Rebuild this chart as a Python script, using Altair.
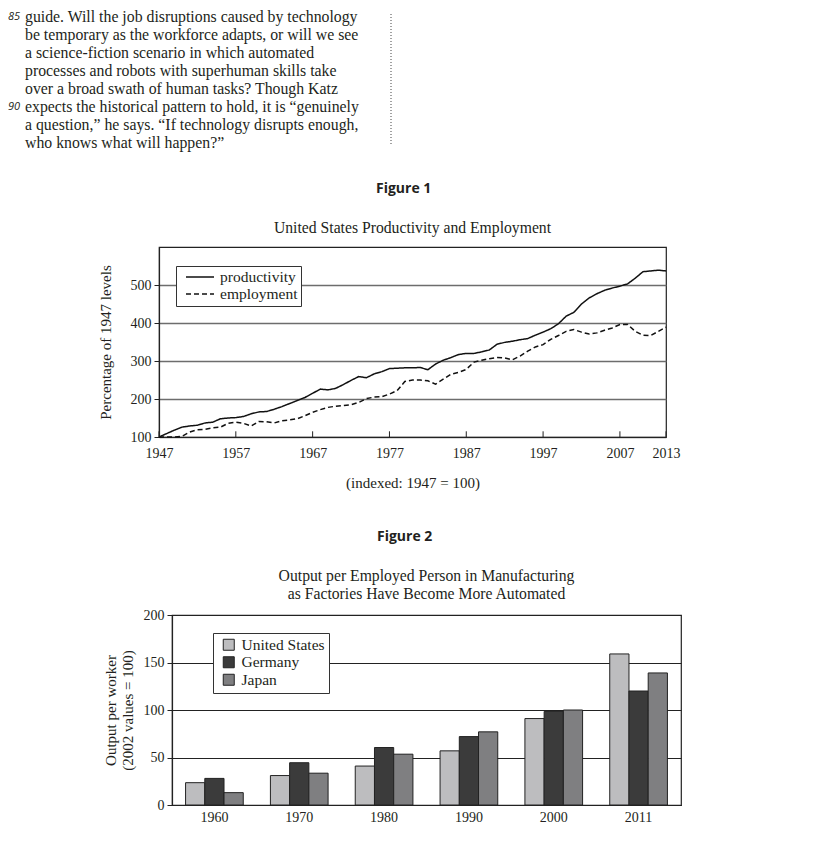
import altair as alt
import pandas as pd

SERIF = "Liberation Serif"
SANS = "Open Sans"
INK = "#231f20"

# ---- passage text ----
passage_lines = [
    "guide. Will the job disruptions caused by technology",
    "be temporary as the workforce adapts, or will we see",
    "a science-fiction scenario in which automated",
    "processes and robots with superhuman skills take",
    "over a broad swath of human tasks? Though Katz",
    "expects the historical pattern to hold, it is \u201cgenuinely",
    "a question,\u201d he says. \u201cIf technology disrupts enough,",
    "who knows what will happen?\u201d",
]
line_numbers = ["85", "", "", "", "", "90", "", ""]

# ---- Figure 1 data ----
years = list(range(1947, 2014))
productivity = [
    100, 109, 118,
    126, 129, 131, 137, 139, 148, 150, 151, 154, 161,
    166, 167, 173, 180, 188, 196, 204, 215, 226, 224,
    228, 238, 249, 259, 256, 266, 272, 280, 281, 282,
    282, 283, 277, 292, 302, 309, 317, 320, 320, 324,
    329, 344, 349, 352, 356, 359, 368, 376, 385, 398,
    418, 428, 450, 466, 477, 486, 492, 497, 503, 518,
    535, 537, 539, 537,
]
employment = [
    100, 100, 100,
    102, 113, 119, 120, 124, 126, 136, 139, 136, 129,
    141, 140, 137, 143, 145, 148, 156, 165, 172, 178,
    181, 183, 185, 191, 201, 205, 206, 213, 222, 246,
    250, 250, 248, 239, 252, 265, 270, 278, 297, 302,
    306, 309, 308, 303, 313, 326, 337, 343, 357, 367,
    378, 383, 376, 371, 374, 381, 387, 396, 396, 378,
    368, 367, 378, 389,
]
series_names = ["productivity", "employment"]
x_ticks = [1947, 1957, 1967, 1977, 1987, 1997, 2007, 2013]
y_ticks1 = [100, 200, 300, 400, 500]

# ---- Figure 2 data ----
bar_years = ["1960", "1970", "1980", "1990", "2000", "2011"]
countries = ["United States", "Germany", "Japan"]
us = [23.5, 31, 41, 57, 91, 159]
germany = [28, 44.5, 60.5, 72, 98.5, 120]
japan = [13, 33.5, 53.5, 77, 100, 139]
bar_colors = ["#bdbdbf", "#3b3b3b", "#7f7f81"]
y_ticks2 = [0, 50, 100, 150, 200]

# ---------------- passage chart ----------------
pdf = pd.DataFrame({"line": list(range(1, 9)), "text": passage_lines, "num": line_numbers})
pbase = alt.Chart(pdf).encode(y=alt.Y("line:O", axis=None))
ptext = pbase.mark_text(align="left", baseline="middle", font=SERIF, fontSize=15.8, color=INK).encode(
    x=alt.value(17), text="text:N")
pnums = pbase.mark_text(align="left", baseline="middle", font=SANS, fontSize=11, fontStyle="italic",
                        color=INK).encode(x=alt.value(0), text="num:N")
pdiv = alt.Chart(pd.DataFrame({"a": [0]})).mark_rule(strokeDash=[1, 2], color="#444", strokeWidth=1).encode(
    x=alt.value("width"), y=alt.value(6), y2=alt.value(138))
passage = alt.layer(ptext, pnums, pdiv).properties(width=383, height=144)

# ---------------- Figure 1 ----------------
df1 = pd.DataFrame({
    "year": years * 2,
    "value": productivity + employment,
    "series": [series_names[0]] * len(years) + [series_names[1]] * len(years),
})
x_enc = alt.X("year:Q", scale=alt.Scale(domain=[1947, 2013], nice=False, zero=False),
              axis=alt.Axis(values=x_ticks, format="d", ticks=False, grid=False, labelPadding=9,
                            title="(indexed: 1947 = 100)", titlePadding=15, labelFlush=False))
y_enc = alt.Y("value:Q", scale=alt.Scale(domain=[100, 600], nice=False, zero=False),
              axis=alt.Axis(values=y_ticks1, grid=True, gridColor="#6d6d6d", gridWidth=1.5,
                            tickSize=5, labelPadding=3, title="Percentage of 1947 levels",
                            titlePadding=17))
lines = alt.Chart(df1).mark_line(color="#111", strokeWidth=1.5).encode(
    x=x_enc, y=y_enc,
    strokeDash=alt.StrokeDash("series:N", sort=series_names,
                              scale=alt.Scale(domain=series_names, range=[[1, 0], [5, 3]]),
                              legend=alt.Legend(title=None, orient="none", legendX=17, legendY=19,
                                                strokeColor="#333", fillColor="white", padding=3,
                                                symbolType="M-2,0L2,0", symbolSize=196,
                                                symbolStrokeWidth=1.4, symbolStrokeColor="#111",
                                                symbolFillColor="transparent",
                                                symbolOffset=13, labelOffset=12,
                                                labelFont=SERIF, labelFontSize=15.5, labelColor=INK,
                                                rowPadding=-1)),
)
ticks_in = alt.Chart(pd.DataFrame({"year": x_ticks})).mark_rule(color="#222", strokeWidth=1).encode(
    x=x_enc, y=alt.datum(100), y2=alt.datum(115))
fig1 = alt.layer(lines, ticks_in).properties(
    width=507, height=190,
    title=alt.TitleParams("United States Productivity and Employment", font=SERIF, fontSize=15.7,
                          fontWeight="normal", color=INK, anchor="middle", frame="group", offset=10),
    view=alt.ViewBackground(stroke="#222", strokeWidth=1.2),
)
spacer1 = alt.Chart(pd.DataFrame({"a": [0]})).mark_point(opacity=0).properties(width=89, height=10)
wrap1 = alt.hconcat(spacer1, fig1, spacing=0,
                    title=alt.TitleParams("Figure 1", font=SANS, fontSize=14, fontWeight="bold",
                                          color=INK, anchor="start", dx=368, offset=24)
                    ).resolve_scale(strokeDash="independent").resolve_legend(strokeDash="independent")

# ---------------- Figure 2 ----------------
rows = []
for i, yr in enumerate(bar_years):
    for c, vals in zip(countries, [us, germany, japan]):
        rows.append({"year": yr, "country": c, "value": vals[i]})
df2 = pd.DataFrame(rows)
bars = alt.Chart(df2).mark_bar(stroke="#222", strokeWidth=1).encode(
    x=alt.X("year:N", sort=bar_years, scale=alt.Scale(paddingInner=0.32, paddingOuter=0.16),
            axis=alt.Axis(title=None, labelAngle=0, ticks=False, labelPadding=5)),
    xOffset=alt.XOffset("country:N", sort=countries,
                        scale=alt.Scale(domain=countries, paddingInner=0, paddingOuter=0)),
    y=alt.Y("value:Q", scale=alt.Scale(domain=[0, 200], nice=False),
            axis=alt.Axis(values=y_ticks2, grid=True, gridColor="#222", gridWidth=1, tickSize=5,
                          labelPadding=3, title=["Output per worker", "(2002 values = 100)"],
                          titleLineHeight=17, titlePadding=8)),
    color=alt.Color("country:N", sort=countries,
                    scale=alt.Scale(domain=countries, range=bar_colors),
                    legend=alt.Legend(title=None, orient="none", legendX=41, legendY=18,
                                      strokeColor="#333", fillColor="white", padding=4,
                                      symbolType="square", symbolSize=121,
                                      symbolStrokeColor="#222", symbolStrokeWidth=1,
                                      symbolOffset=4, labelOffset=5,
                                      labelFont=SERIF, labelFontSize=15.5, labelColor=INK,
                                      rowPadding=0.5)),
)
fig2 = bars.properties(
    width=509, height=190,
    title=alt.TitleParams(["Output per Employed Person in Manufacturing",
                           "as Factories Have Become More Automated"],
                          font=SERIF, fontSize=15.7, fontWeight="normal", color=INK, lineHeight=18,
                          anchor="middle", frame="group", offset=5),
    view=alt.ViewBackground(stroke="#222", strokeWidth=1.2),
)
spacer2 = alt.Chart(pd.DataFrame({"a": [0]})).mark_point(opacity=0).properties(width=94, height=10)
wrap2 = alt.hconcat(spacer2, fig2, spacing=0,
                    title=alt.TitleParams("Figure 2", font=SANS, fontSize=14, fontWeight="bold",
                                          color=INK, anchor="start", dx=369, offset=24)
                    ).resolve_scale(color="independent").resolve_legend(color="independent")

top = alt.vconcat(passage, wrap1, spacing=29).resolve_scale(
    strokeDash="independent").resolve_legend(strokeDash="independent")
chart = alt.vconcat(top, wrap2, spacing=38).resolve_scale(
    color="independent", strokeDash="independent"
).resolve_legend(
    color="independent", strokeDash="independent"
).properties(padding=0).configure_view(
    stroke=None
).configure_axis(
    labelFont=SERIF, labelFontSize=14, labelColor=INK,
    titleFont=SERIF, titleFontSize=15, titleFontWeight="normal", titleColor=INK,
    domainColor="#222", tickColor="#222", domainWidth=1.2,
)

chart.save("out.html", embed_options={"renderer": "svg", "actions": False})
